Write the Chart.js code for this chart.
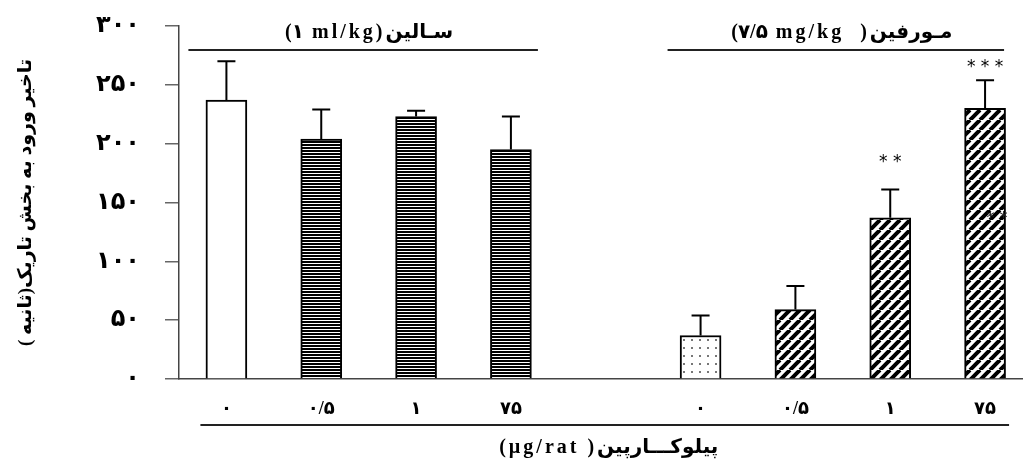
<!DOCTYPE html>
<html>
<head>
<meta charset="utf-8">
<script src="https://cdn.jsdelivr.net/npm/chart.js@4/dist/chart.umd.min.js"></script>
<style>
  html, body { margin: 0; padding: 0; background: #fff; overflow: hidden; }
</style>
</head>
<body>
<canvas id="chart" width="1023" height="459"></canvas>
<script>
// data
const categories = ['۰', '۰/۵', '۱', '۷۵', '', '۰', '۰/۵', '۱', '۷۵'];
const means  = [237, 204, 223, 195, null, 37, 59, 137, 230];
const errors = [33, 25, 5, 28, null, 17, 20, 24, 24];
const stars  = ['', '', '', '', '', '', '', '**', '***'];
const fills  = ['blank', 'hlines', 'hlines', 'hlines', null, 'dots', 'diag', 'diag', 'diag'];
const yTicks = [0, 50, 100, 150, 200, 250, 300];
const yTickLabels = ['۰', '۵۰', '۱۰۰', '۱۵۰', '۲۰۰', '۲۵۰', '۳۰۰'];
const groupLabels = ['(۱ ml/kg)سـالین', '(۷/۵ mg/kg  )مـورفین'];
const groupRanges = [[0, 3], [5, 8]];
const xTitle = '(µg/rat )پیلوکـــارپین';
const yTitle = '( ثانیه\u200E)تاخیر ورود به بخش تاریک';

const FONT = "'Liberation Serif', 'DejaVu Sans', serif";

function makePattern(kind) {
  if (kind === 'blank') return '#fff';
  const c = document.createElement('canvas');
  let g;
  if (kind === 'hlines') {
    c.width = 4; c.height = 3; g = c.getContext('2d');
    g.fillStyle = '#fff'; g.fillRect(0, 0, 4, 3);
    g.fillStyle = '#000'; g.fillRect(0, 0, 4, 2);
  } else if (kind === 'dots') {
    c.width = 8; c.height = 8; g = c.getContext('2d');
    g.fillStyle = '#fff'; g.fillRect(0, 0, 8, 8);
    g.fillStyle = '#777'; g.fillRect(3, 3, 2, 2);
  } else {
    c.width = 10; c.height = 10; g = c.getContext('2d');
    g.fillStyle = '#fff'; g.fillRect(0, 0, 10, 10);
    g.strokeStyle = '#000'; g.lineWidth = 4;
    g.beginPath();
    for (let k = -1; k <= 1; k++) { g.moveTo(k * 10, 10); g.lineTo(k * 10 + 10, 0); }
    g.stroke();
  }
  return c.getContext('2d').createPattern(c, 'repeat');
}

const errorBars = {
  id: 'errorBars',
  afterDatasetsDraw(chart) {
    const ctx = chart.ctx;
    const y = chart.scales.y;
    const meta = chart.getDatasetMeta(0);
    ctx.save();
    ctx.strokeStyle = '#000';
    ctx.lineWidth = 2;
    meta.data.forEach((bar, i) => {
      if (means[i] == null) return;
      const top = y.getPixelForValue(means[i] + errors[i]);
      ctx.beginPath();
      ctx.moveTo(bar.x, bar.y);
      ctx.lineTo(bar.x, top);
      ctx.moveTo(bar.x - 9, top);
      ctx.lineTo(bar.x + 9, top);
      ctx.stroke();
      if (stars[i]) {
        ctx.fillStyle = '#000';
        ctx.font = "17px 'DejaVu Sans'";
        ctx.textAlign = 'center';
        ctx.textBaseline = 'middle';
        const lift = stars[i].length === 2 ? 27 : 13;
        ctx.fillText(stars[i].split('').join(' '), bar.x, top - lift);
      }
    });
    // stray asterisks inside the last bar, as printed in the original
    const last = meta.data[8];
    ctx.fillStyle = '#222';
    ctx.font = "16px 'DejaVu Sans'";
    ctx.textAlign = 'center';
    ctx.textBaseline = 'middle';
    ctx.fillText('* *', last.x + 12, y.getPixelForValue(136));
    ctx.restore();
  }
};

const groupMarks = {
  id: 'groupMarks',
  afterDraw(chart) {
    const ctx = chart.ctx;
    const x = chart.scales.x;
    const area = chart.chartArea;
    const pads = [[38, 27], [33, 19]];
    ctx.save();
    ctx.strokeStyle = '#222';
    ctx.lineWidth = 2;
    ctx.fillStyle = '#000';
    ctx.font = 'bold 20px ' + FONT;
    ctx.letterSpacing = '3px';
    ctx.textAlign = 'center';
    ctx.textBaseline = 'middle';
    groupRanges.forEach((r, g) => {
      const x1 = x.getPixelForValue(r[0]) - pads[g][0];
      const x2 = x.getPixelForValue(r[1]) + pads[g][1];
      ctx.beginPath();
      ctx.moveTo(x1, area.top + 24);
      ctx.lineTo(x2, area.top + 24);
      ctx.stroke();
      ctx.fillText(groupLabels[g], (x1 + x2) / 2 + 6, area.top + 7);
    });
    // line under the dose labels
    const bx1 = x.getPixelForValue(0) - 26;
    const bx2 = x.getPixelForValue(8) + 24;
    ctx.beginPath();
    ctx.moveTo(bx1, area.bottom + 46);
    ctx.lineTo(bx2, area.bottom + 46);
    ctx.stroke();
    // axis title under the line
    ctx.fillText(xTitle, (bx1 + bx2) / 2 + 4, area.bottom + 69);
    ctx.restore();
  }
};

new Chart(document.getElementById('chart'), {
  type: 'bar',
  data: {
    datasets: [{
      data: means.map((v, i) => ({ x: i, y: v })),
      backgroundColor: fills.map(f => f ? makePattern(f) : '#fff'),
      borderColor: '#000',
      borderWidth: 2,
      barThickness: 41
    }]
  },
  options: {
    responsive: false,
    animation: false,
    events: [],
    layout: { padding: { top: 26, left: 0, right: 0, bottom: 0 } },
    plugins: { legend: { display: false }, tooltip: { enabled: false } },
    scales: {
      x: {
        type: 'linear',
        offset: false,
        min: -0.5,
        max: 8.4,
        afterBuildTicks: s => { s.ticks = categories.map((c, i) => ({ value: i })); },
        afterFit: s => { s.height = 80; s.paddingLeft = 0; s.paddingRight = 0; },
        grid: { display: false, drawTicks: false },
        border: { display: true, color: '#444', width: 1.5 },
        ticks: {
          autoSkip: false,
          maxRotation: 0,
          padding: 20,
          color: '#000',
          font: { family: FONT, size: 18, weight: 'bold' },
          callback: v => categories[v]
        }
      },
      y: {
        min: 0,
        max: 300,
        afterBuildTicks: s => { s.ticks = yTicks.map(v => ({ value: v })); },
        afterFit: s => { s.width = 179; s.paddingTop = 0; s.paddingBottom = 0; },
        grid: { drawOnChartArea: false, drawTicks: true, tickLength: 14, color: '#666', lineWidth: 1.5 },
        border: { display: true, color: '#444', width: 1.5 },
        ticks: {
          padding: 25,
          color: '#000',
          font: { family: FONT, size: 24, weight: 'bold' },
          callback: v => yTickLabels[yTicks.indexOf(v)]
        },
        title: {
          display: true,
          text: yTitle,
          color: '#000',
          font: { family: FONT, size: 19, weight: 'bold' },
          padding: { top: 15, bottom: 0 }
        }
      }
    }
  },
  plugins: [errorBars, groupMarks]
});
</script>
</body>
</html>
